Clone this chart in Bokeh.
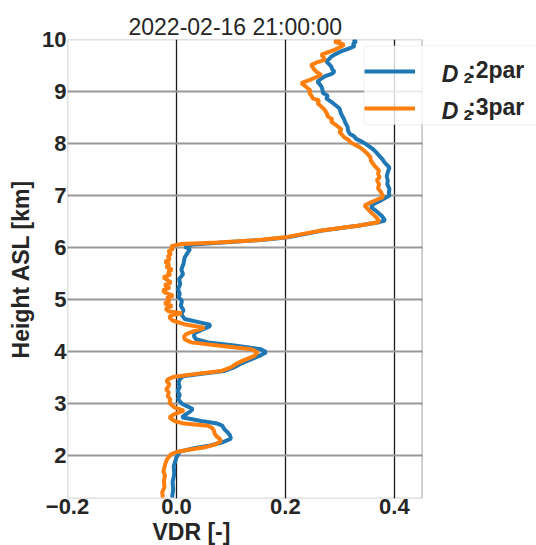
from bokeh.plotting import figure
from bokeh.models import (Range1d, FixedTicker, CustomJSTickFormatter, Legend, LegendItem, Label,
                          Title, BoxAnnotation)
from bokeh.embed import file_html
from bokeh.resources import INLINE

title_text = "2022-02-16 21:00:00"
x_label = "VDR [-]"
y_label = "Height ASL [km]"
x_ticks = [-0.2, 0.0, 0.2, 0.4]
y_ticks = [2, 3, 4, 5, 6, 7, 8, 9, 10]
x_min, x_max = -0.2, 0.451          # visible axes limits
y_min, y_max = 1.18, 10.0
x_canvas_end = 0.661                # room on the right for the legend
series_names = ["2par", "3par"]

h_2par = [1.20, 1.35, 1.50, 1.65, 1.80, 1.97, 2.08, 2.14, 2.20, 2.26, 2.33, 2.40, 2.45, 2.51, 2.58, 2.62,
          2.67, 2.74, 2.79, 2.84, 2.90, 2.95, 3.00, 3.09, 3.17, 3.25, 3.32, 3.40, 3.47, 3.53, 3.58, 3.63,
          3.70, 3.77, 3.83, 3.92, 3.99, 4.05, 4.12, 4.18, 4.24, 4.30, 4.36, 4.42, 4.48, 4.52, 4.56, 4.63,
          4.72, 4.80, 4.88, 4.98, 5.05, 5.11, 5.20, 5.30, 5.40, 5.49, 5.58, 5.69, 5.81, 5.91, 5.97, 6.02,
          6.06, 6.10, 6.15, 6.20, 6.27, 6.33, 6.42, 6.49, 6.52, 6.57, 6.62, 6.71, 6.78, 6.84, 6.90, 7.00,
          7.06, 7.13, 7.22, 7.29, 7.37, 7.45, 7.54, 7.64, 7.70, 7.77, 7.84, 7.90, 7.99, 8.04, 8.09, 8.14,
          8.19, 8.25, 8.33, 8.40, 8.46, 8.52, 8.58, 8.68, 8.78, 8.87, 8.92, 8.97, 9.04, 9.10, 9.19, 9.25,
          9.29, 9.34, 9.38, 9.43, 9.48, 9.53, 9.58, 9.62, 9.67, 9.72, 9.77, 9.82, 9.87, 9.92, 9.96, 10.0]
vdr_2par = [-0.008, -0.006, -0.007, -0.004, -0.005, 0.000, 0.006, 0.030, 0.062, 0.085, 0.100, 0.098, 0.094, 0.088, 0.084, 0.075,
            0.045, 0.010, 0.016, 0.024, 0.030, 0.020, 0.010, 0.003, 0.006, 0.002, 0.006, 0.004, 0.006, 0.012, 0.050, 0.088,
            0.106, 0.118, 0.131, 0.152, 0.165, 0.155, 0.106, 0.058, 0.036, 0.032, 0.034, 0.046, 0.060, 0.062, 0.045, 0.015,
            0.009, 0.013, 0.008, 0.010, 0.004, 0.006, 0.003, 0.007, 0.005, 0.012, 0.009, 0.013, 0.015, 0.021, 0.025, 0.015,
            0.030, 0.085, 0.160, 0.205, 0.240, 0.268, 0.333, 0.372, 0.383, 0.380, 0.376, 0.366, 0.357, 0.362, 0.374, 0.391,
            0.390, 0.391, 0.387, 0.388, 0.386, 0.388, 0.391, 0.382, 0.378, 0.372, 0.366, 0.360, 0.348, 0.340, 0.330, 0.326,
            0.318, 0.315, 0.314, 0.310, 0.308, 0.305, 0.302, 0.299, 0.287, 0.275, 0.278, 0.269, 0.268, 0.266, 0.259, 0.266,
            0.272, 0.285, 0.290, 0.286, 0.284, 0.280, 0.275, 0.280, 0.284, 0.292, 0.302, 0.315, 0.327, 0.324, 0.330, 0.324]

h_3par = [1.20, 1.30, 1.40, 1.52, 1.62, 1.70, 1.78, 1.86, 1.94, 2.03, 2.08, 2.12, 2.16, 2.22, 2.29, 2.34,
          2.38, 2.43, 2.48, 2.53, 2.58, 2.62, 2.67, 2.74, 2.80, 2.87, 2.93, 3.02, 3.08, 3.15, 3.22, 3.28,
          3.33, 3.38, 3.43, 3.47, 3.52, 3.57, 3.63, 3.70, 3.77, 3.83, 3.92, 3.99, 4.05, 4.12, 4.18, 4.24,
          4.29, 4.34, 4.40, 4.46, 4.53, 4.60, 4.66, 4.70, 4.74, 4.78, 4.83, 4.88, 4.93, 4.98, 5.03, 5.08,
          5.13, 5.18, 5.23, 5.28, 5.33, 5.38, 5.43, 5.48, 5.53, 5.58, 5.63, 5.68, 5.73, 5.78, 5.83, 5.88,
          5.93, 5.98, 6.03, 6.07, 6.10, 6.15, 6.20, 6.27, 6.33, 6.42, 6.49, 6.51, 6.57, 6.62, 6.71, 6.76,
          6.81, 6.87, 6.92, 6.97, 7.06, 7.14, 7.22, 7.30, 7.35, 7.42, 7.48, 7.58, 7.67, 7.74, 7.80, 7.87,
          7.93, 8.02, 8.07, 8.12, 8.17, 8.22, 8.27, 8.33, 8.42, 8.47, 8.52, 8.58, 8.65, 8.72, 8.78, 8.83,
          8.87, 8.92, 8.97, 9.02, 9.06, 9.11, 9.16, 9.22, 9.27, 9.32, 9.37, 9.42, 9.47, 9.51, 9.56, 9.61,
          9.66, 9.71, 9.76, 9.80, 9.85, 9.90, 9.93, 9.96, 10.0]
vdr_3par = [-0.025, -0.026, -0.022, -0.023, -0.021, -0.024, -0.022, -0.020, -0.017, -0.010, 0.002, 0.025, 0.050, 0.072, 0.082, 0.078,
            0.073, 0.070, 0.069, 0.066, 0.058, 0.014, -0.004, -0.013, -0.004, 0.014, -0.004, -0.013, -0.011, -0.016, -0.014, -0.019,
            -0.015, -0.013, -0.018, -0.016, -0.004, 0.033, 0.082, 0.100, 0.110, 0.122, 0.143, 0.149, 0.137, 0.076, 0.027, 0.015,
            0.014, 0.018, 0.033, 0.051, 0.014, -0.007, -0.013, -0.010, 0.010, -0.015, -0.020, -0.008, -0.022, -0.012, -0.018, -0.006,
            -0.020, -0.025, -0.012, -0.022, -0.010, -0.017, -0.024, -0.011, -0.016, -0.008, -0.019, -0.013, -0.021, -0.012, -0.016, -0.010,
            -0.015, -0.006, -0.010, 0.009, 0.076, 0.155, 0.201, 0.235, 0.266, 0.333, 0.370, 0.372, 0.368, 0.363, 0.354, 0.350,
            0.345, 0.357, 0.368, 0.379, 0.376, 0.370, 0.372, 0.368, 0.373, 0.370, 0.372, 0.363, 0.357, 0.356, 0.351, 0.344,
            0.336, 0.320, 0.316, 0.308, 0.304, 0.299, 0.303, 0.296, 0.284, 0.286, 0.278, 0.276, 0.272, 0.265, 0.259, 0.262,
            0.250, 0.248, 0.244, 0.246, 0.241, 0.236, 0.229, 0.244, 0.255, 0.266, 0.258, 0.253, 0.250, 0.247, 0.258, 0.272,
            0.270, 0.266, 0.280, 0.290, 0.300, 0.308, 0.298, 0.290, 0.302]

FONT = "Liberation Sans"
TXT = "#262626"

p = figure(width=536, height=545, output_backend="svg", toolbar_location=None,
           x_range=Range1d(x_min, x_canvas_end), y_range=Range1d(y_min, y_max),
           min_border_left=67, min_border_right=0, min_border_top=39, min_border_bottom=47)
p.background_fill_color = "white"
p.border_fill_color = "white"
p.outline_line_color = None

p.title.text = title_text
p.title.align = "left"
p.title.offset = 61
p.title.text_font = FONT
p.title.text_font_size = "23px"
p.title.text_font_style = "normal"
p.title.text_color = TXT
p.title.standoff = 0

p.xaxis.ticker = FixedTicker(ticks=x_ticks)
p.yaxis.ticker = FixedTicker(ticks=y_ticks)
p.xaxis.formatter = CustomJSTickFormatter(code="return tick < -1e-9 ? '\u2212' + Math.abs(tick).toFixed(1) : Math.abs(tick).toFixed(1);")
p.yaxis.formatter = CustomJSTickFormatter(code="return tick.toFixed(0);")
p.yaxis.axis_label = y_label
for ax in (p.xaxis[0], p.yaxis[0]):
    ax.axis_line_color = None
    ax.major_tick_line_color = None
    ax.minor_tick_line_color = None
    ax.major_tick_out = 0
    ax.major_tick_in = 0
    ax.major_label_text_font = FONT
    ax.major_label_text_font_size = "22px"
    ax.major_label_text_font_style = "bold"
    ax.major_label_text_color = TXT
    ax.axis_label_text_font = FONT
    ax.axis_label_text_font_size = "23px"
    ax.axis_label_text_font_style = "bold"
    ax.axis_label_text_color = TXT
p.xaxis.major_label_standoff = 0
p.yaxis.major_label_standoff = 1
p.yaxis.axis_label_standoff = 5

xtitle = Title(text=x_label, align="left", offset=85, text_font=FONT, text_font_size="23px",
               text_font_style="bold", text_color=TXT, standoff=0)
p.add_layout(xtitle, "below")

p.xgrid.grid_line_color = "#1a1a1a"
p.xgrid.grid_line_width = 1.3
p.ygrid.grid_line_color = "#999999"
p.ygrid.grid_line_width = 2

r1 = p.line(vdr_2par, h_2par, line_color="#1f77b4", line_width=4)
r2 = p.line(vdr_3par, h_3par, line_color="#ff7f0e", line_width=4)

# blank area to the right of the axes box (legend overhangs into it)
p.add_layout(BoxAnnotation(left=x_max, fill_color="white", fill_alpha=1.0, line_color=None))
# axes box
p.add_layout(BoxAnnotation(left=x_min, right=x_max, bottom=y_min, top=y_max, fill_alpha=0,
                           line_color="#333333", line_width=1.5))

# legend frame (semi-transparent white, rounded)
p.add_layout(BoxAnnotation(left=296.6, right=520, bottom=373.7, top=452.7,
                           left_units="screen", right_units="screen",
                           bottom_units="screen", top_units="screen",
                           fill_color="white", fill_alpha=0.8, line_color="#cccccc",
                           line_width=1, border_radius=4))

for i, yb in enumerate([425.0, 388.0]):
    p.add_layout(Label(x=374.3, y=yb, x_units="screen", y_units="screen", text="D",
                       text_font=FONT, text_font_size="23px", text_font_style="bold italic",
                       text_color=TXT, text_baseline="alphabetic", text_align="left"))
    p.add_layout(Label(x=396.3, y=yb - 4, x_units="screen", y_units="screen", text="2",
                       text_font=FONT, text_font_size="15px", text_font_style="bold",
                       text_color=TXT, text_baseline="alphabetic", text_align="left"))

legend = Legend(items=[LegendItem(label=":" + series_names[0], renderers=[r1]),
                       LegendItem(label=":" + series_names[1], renderers=[r2])],
                location=(297, 377), glyph_width=51, glyph_height=26, label_height=26,
                label_standoff=53, padding=5, spacing=10, margin=0,
                label_text_font=FONT, label_text_font_size="23px", label_text_font_style="bold",
                label_text_color=TXT, background_fill_alpha=0.0, border_line_color=None)
p.add_layout(legend, "center")

open("out.html", "w").write(file_html(p, INLINE))
